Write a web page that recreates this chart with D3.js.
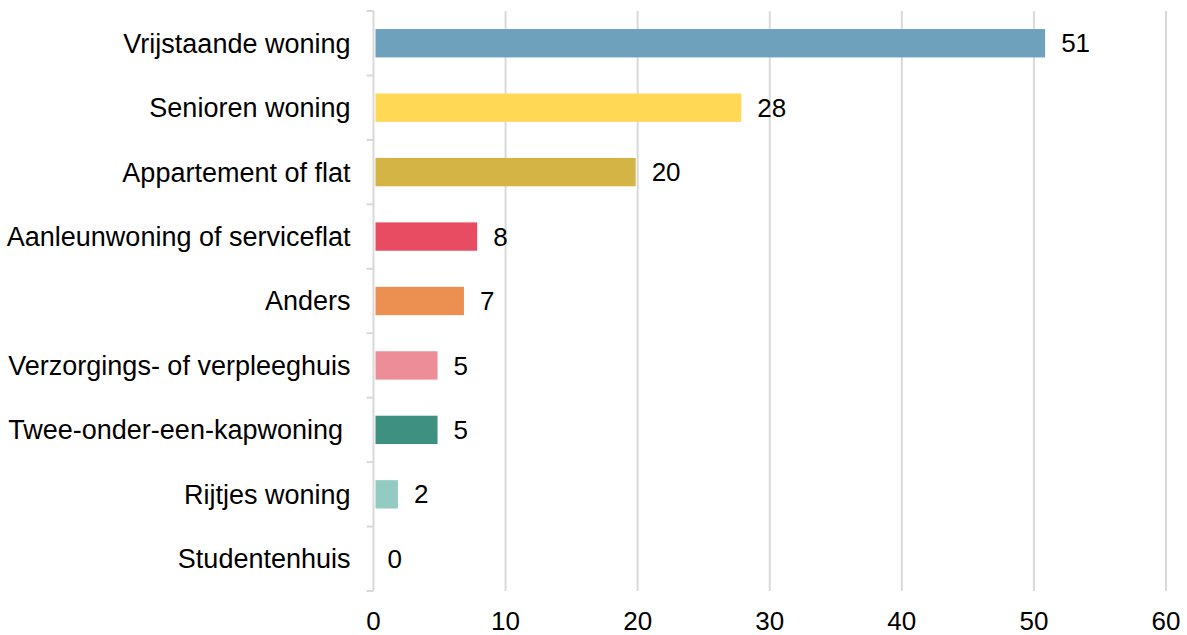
<!DOCTYPE html>
<html>
<head>
<meta charset="utf-8">
<script src="https://cdn.jsdelivr.net/npm/d3@7"></script>
<style>
  body { margin: 0; background: #fff; }
  text { font-family: "Liberation Sans", Arial, sans-serif; fill: #000; }
</style>
</head>
<body>
<div id="chart"></div>
<script>
const categories = ["Vrijstaande woning", "Senioren woning", "Appartement of flat",
  "Aanleunwoning of serviceflat", "Anders", "Verzorgings- of verpleeghuis",
  "Twee-onder-een-kapwoning ", "Rijtjes woning", "Studentenhuis"];
const values = [51, 28, 20, 8, 7, 5, 5, 2, 0];
const colors = ["#6ea2bc", "#ffd955", "#d3b444", "#e84c62", "#ec9052", "#ed8d97", "#3e9080", "#93cbc3", "#cccccc"];
const xTicks = [0, 10, 20, 30, 40, 50, 60];

const width = 1187, height = 635;
const margin = { top: 11, right: 21, bottom: 44, left: 373.5 };

const svg = d3.select("#chart").append("svg")
  .attr("width", width)
  .attr("height", height);

const x = d3.scaleLinear()
  .domain([0, 60])
  .range([margin.left, width - margin.right]);

const y = d3.scaleBand()
  .domain(categories)
  .range([margin.top, height - margin.bottom])
  .paddingInner(0.56)
  .paddingOuter(0.28);

// gridlines
svg.append("g")
  .selectAll("line")
  .data(xTicks.slice(1))
  .enter().append("line")
  .attr("x1", d => x(d))
  .attr("x2", d => x(d))
  .attr("y1", margin.top)
  .attr("y2", height - margin.bottom)
  .style("stroke", "#d9d9d9")
  .style("stroke-width", 2);

// y axis line + boundary ticks
svg.append("line")
  .attr("x1", x(0)).attr("x2", x(0))
  .attr("y1", margin.top).attr("y2", height - margin.bottom)
  .style("stroke", "#d9d9d9")
  .style("stroke-width", 2);

const bandH = (height - margin.top - margin.bottom) / categories.length;
svg.append("g")
  .selectAll("line")
  .data(d3.range(categories.length + 1))
  .enter().append("line")
  .attr("x1", x(0) - 7)
  .attr("x2", x(0))
  .attr("y1", i => margin.top + i * bandH)
  .attr("y2", i => margin.top + i * bandH)
  .style("stroke", "#d9d9d9")
  .style("stroke-width", 2);

// bars
svg.append("g")
  .selectAll("rect")
  .data(values)
  .enter().append("rect")
  .attr("x", x(0) + 2)
  .attr("y", (d, i) => y(categories[i]))
  .attr("width", d => Math.max(0, x(d) - x(0) - 4))
  .attr("height", y.bandwidth())
  .style("fill", (d, i) => colors[i]);

// value labels
svg.append("g")
  .selectAll("text")
  .data(values)
  .enter().append("text")
  .attr("x", d => x(d) + 14)
  .attr("y", (d, i) => y(categories[i]) + y.bandwidth() / 2)
  .attr("dy", "0.35em")
  .style("font-size", "26px")
  .text(d => d);

// category labels
svg.append("g")
  .selectAll("text")
  .data(categories)
  .enter().append("text")
  .attr("x", x(0) - 23)
  .attr("y", d => y(d) + y.bandwidth() / 2)
  .attr("dy", "0.35em")
  .attr("text-anchor", "end")
  .style("font-size", "27px")
  .style("white-space", "pre")
  .text(d => d);

// x tick labels
svg.append("g")
  .selectAll("text")
  .data(xTicks)
  .enter().append("text")
  .attr("x", d => x(d))
  .attr("y", 630)
  .attr("text-anchor", "middle")
  .style("font-size", "26px")
  .text(d => d);
</script>
</body>
</html>
